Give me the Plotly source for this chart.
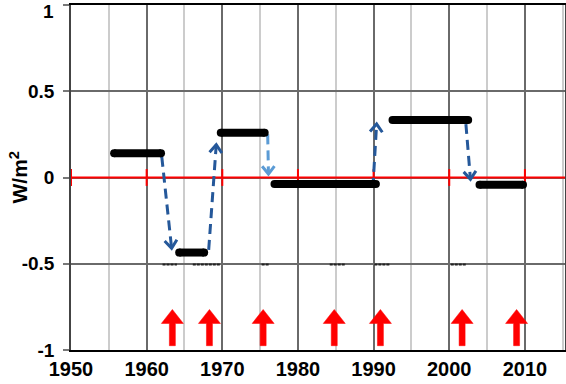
import math
import plotly.graph_objects as go

# ---------------- data ----------------
step_start = [1955.7, 1964.3, 1969.8, 1976.9, 1992.5, 2004.0]
step_end = [1961.9, 1967.6, 1975.6, 1990.3, 2002.5, 2009.75]
step_value = [0.141, -0.435, 0.26, -0.038, 0.334, -0.042]

# transitions (dashed blue arrows)
trans_x0 = [1962.0, 1968.2, 1976.0, 1989.9, 2002.2]
trans_y0 = [0.12, -0.42, 0.25, -0.06, 0.31]
trans_x1 = [1963.3, 1969.2, 1976.1, 1990.4, 2002.8]
trans_y1 = [-0.41, 0.19, 0.02, 0.31, -0.01]
trans_color = ["#25589a", "#25589a", "#5b9bd5", "#25589a", "#25589a"]

# short black dashes just below -0.5
mark_start = [1962.1, 1966.1, 1975.2, 1984.2, 1990.1, 2000.2]
mark_end = [1964.0, 1969.7, 1976.2, 1986.2, 1992.2, 2002.3]
mark_level = -0.505

# red upward arrows
event_x = [1963.4, 1968.3, 1975.4, 1984.8, 1990.9, 2001.7, 2008.9]
event_base = -0.975
event_tip = -0.765

x_ticks = [1950, 1960, 1970, 1980, 1990, 2000, 2010]
y_ticks = [-1, -0.5, 0, 0.5, 1]
y_ticktext = ["-1", "-0.5", "0", "0.5", "1"]
y_title = "W/m<sup>2</sup>"

# ---------------- layout geometry ----------------
W, H = 566, 384
ML, MR, MT, MB = 71, 1, 5, 34
XMIN, XMAX = 1950, 2015.3
YMIN, YMAX = -1, 1
PW, PH = W - ML - MR, H - MT - MB
ppx = PW / (XMAX - XMIN)   # px per year
ppy = PH / (YMAX - YMIN)   # px per unit

fig = go.Figure()

# red zero line with decade ticks
fig.add_trace(go.Scatter(x=[XMIN, XMAX], y=[0, 0], mode="lines",
                         line=dict(color="#ff0000", width=2), hoverinfo="skip"))
fig.add_trace(go.Scatter(x=x_ticks, y=[0] * len(x_ticks), mode="markers",
                         marker=dict(symbol="line-ns", size=12,
                                     line=dict(color="#ff0000", width=2)),
                         hoverinfo="skip"))

# small dashes below -0.5
for a, b in zip(mark_start, mark_end):
    fig.add_trace(go.Scatter(x=[a, b], y=[mark_level, mark_level], mode="lines",
                             line=dict(color="#222222", width=2, dash="3px,1px"),
                             hoverinfo="skip"))

# dashed blue transition arrows
for x0, y0, x1, y1, c in zip(trans_x0, trans_y0, trans_x1, trans_y1, trans_color):
    fig.add_trace(go.Scatter(x=[x0, x1], y=[y0, y1], mode="lines",
                             line=dict(color=c, width=3, dash="10px,6px"),
                             hoverinfo="skip"))
    dx = (x1 - x0) * ppx
    dy = (y1 - y0) * ppy
    n = math.hypot(dx, dy)
    ux, uy = dx / n, dy / n
    L, th = 10, math.radians(38)
    pts = []
    for s in (1, -1):
        cs, sn = math.cos(s * th), math.sin(s * th)
        rx = ux * cs - uy * sn
        ry = ux * sn + uy * cs
        pts.append((x1 - L * rx / ppx, y1 - L * ry / ppy))
    fig.add_trace(go.Scatter(x=[pts[0][0], x1, pts[1][0]],
                             y=[pts[0][1], y1, pts[1][1]], mode="lines",
                             line=dict(color=c, width=3), hoverinfo="skip"))

# black step segments
for a, b, v in zip(step_start, step_end, step_value):
    fig.add_trace(go.Scatter(x=[a, b], y=[v, v], mode="lines+markers",
                             line=dict(color="black", width=8),
                             marker=dict(color="black", size=8),
                             hoverinfo="skip"))

# red arrows
hh = 14 / ppy
hw = 11 / ppx
sw = 3 / ppx
for cx in event_x:
    xs = [cx - sw, cx - sw, cx - hw, cx, cx + hw, cx + sw, cx + sw, cx - sw]
    ys = [event_base, event_tip - hh, event_tip - hh, event_tip,
          event_tip - hh, event_tip - hh, event_base, event_base]
    fig.add_trace(go.Scatter(x=xs, y=ys, mode="lines", fill="toself",
                             fillcolor="#ff0000", line=dict(color="#ff0000", width=0.5),
                             hoverinfo="skip"))

font = dict(family="Liberation Sans", size=19, color="black", weight="bold")

fig.add_annotation(text=y_title, xref="paper", yref="paper",
                   x=-(ML - 18) / PW, y=0.5, xanchor="center", yanchor="middle",
                   textangle=-90, showarrow=False,
                   font=dict(family="Liberation Sans", size=21, color="black", weight="bold"))

# top tick label drawn as annotation so it is not clipped by the page edge
top_idx = y_ticks.index(YMAX)
fig.add_annotation(text=y_ticktext[top_idx], xref="paper", yref="y",
                   x=-(ML - 56) / PW, y=y_ticks[top_idx], xanchor="right", yanchor="top",
                   yshift=MT + 1, showarrow=False, font=font)
shown_text = [("" if v == YMAX else t) for v, t in zip(y_ticks, y_ticktext)]

fig.update_layout(
    width=W, height=H,
    margin=dict(l=ML, r=MR, t=MT, b=MB, autoexpand=False),
    paper_bgcolor="white", plot_bgcolor="white",
    showlegend=False,
    font=font,
    xaxis=dict(range=[XMIN, XMAX], tickvals=x_ticks, ticks="", automargin=False,
               showgrid=True, gridcolor="#6a6a6a", gridwidth=1.5,
               minor=dict(dtick=5, tick0=1955, showgrid=True, gridcolor="#cccccc", gridwidth=1.5),
               showline=True, linecolor="black", linewidth=1.5, mirror=True,
               zeroline=False, tickfont=dict(family="Liberation Sans", size=20, color="black", weight="bold"),
               ticklabeloverflow="allow"),
    yaxis=dict(range=[YMIN, YMAX], tickvals=y_ticks, ticktext=shown_text,
               ticks="outside", ticklen=6, tickcolor="#777777", tickwidth=1.5,
               automargin=False, ticklabelstandoff=5, ticklabeloverflow="allow",
               showgrid=True, gridcolor="#6a6a6a", gridwidth=1.5,
               showline=True, linecolor="#444444", linewidth=1.5, mirror=True,
               zeroline=False, tickfont=font),
)

fig.write_html("out.html", config={"displayModeBar": False},
               post_script="document.body.style.margin='0';")
